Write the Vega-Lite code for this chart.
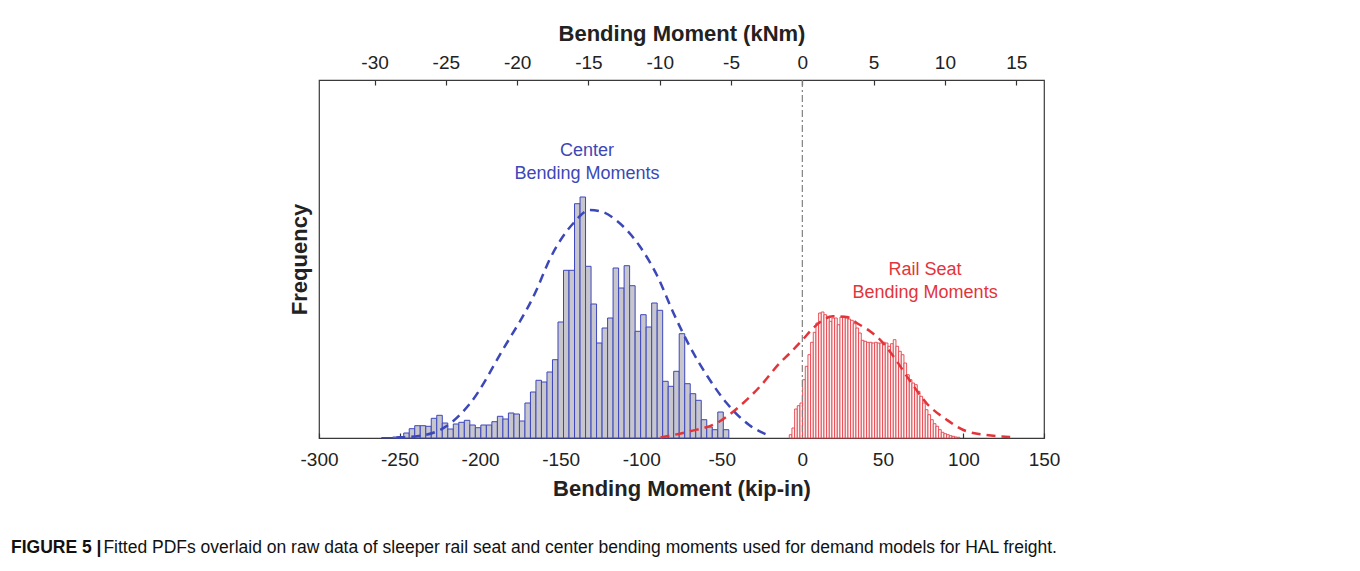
{
  "$schema": "https://vega.github.io/schema/vega-lite/v6.json",
  "width": 725,
  "height": 358,
  "autosize": {"type": "none"},
  "padding": {"left": 319, "top": 80, "right": 316, "bottom": 133},
  "background": "white",
  "config": {
    "view": {"stroke": "#3a3a3a", "strokeWidth": 1.2},
    "font": "Liberation Sans",
    "axis": {"labelFont": "Liberation Sans", "titleFont": "Liberation Sans", "labelColor": "#222", "titleColor": "#222", "grid": false, "domain": false, "tickColor": "#333", "tickWidth": 1.2}
  },
  "title": {
    "text": "FIGURE 5 |",
    "subtitle": "\u200b\u00a0\u00a0\u00a0\u00a0\u00a0\u00a0\u00a0\u00a0\u00a0\u00a0\u00a0\u00a0\u00a0\u00a0\u00a0\u00a0\u00a0\u00a0\u00a0Fitted PDFs overlaid on raw data of sleeper rail seat and center bending moments used for demand models for HAL freight.",
    "orient": "bottom",
    "anchor": "start",
    "frame": "group",
    "dx": -308,
    "offset": 40,
    "font": "Liberation Sans",
    "fontSize": 17.5,
    "fontWeight": "bold",
    "color": "#111",
    "subtitleFont": "Liberation Sans",
    "subtitleFontSize": 17.5,
    "subtitleFontWeight": "normal",
    "subtitleColor": "#111",
    "subtitlePadding": -17.5
  },
  "datasets": {
    "center": [
      {"moment": -261.1, "moment_end": -257.68, "freq": 0.5},
      {"moment": -257.68, "moment_end": -254.26, "freq": 0.5},
      {"moment": -254.26, "moment_end": -250.84, "freq": 1},
      {"moment": -250.84, "moment_end": -247.42, "freq": 1.5},
      {"moment": -247.42, "moment_end": -244.0, "freq": 5},
      {"moment": -244.0, "moment_end": -240.58, "freq": 9.3},
      {"moment": -240.58, "moment_end": -237.16, "freq": 12.3},
      {"moment": -237.16, "moment_end": -233.74, "freq": 12.3},
      {"moment": -233.74, "moment_end": -230.32, "freq": 11.7},
      {"moment": -230.32, "moment_end": -226.9, "freq": 19.7},
      {"moment": -226.9, "moment_end": -223.48, "freq": 22.7},
      {"moment": -223.48, "moment_end": -220.06, "freq": 15},
      {"moment": -220.06, "moment_end": -216.64, "freq": 9},
      {"moment": -216.64, "moment_end": -213.22, "freq": 14},
      {"moment": -213.22, "moment_end": -209.8, "freq": 15.7},
      {"moment": -209.8, "moment_end": -206.38, "freq": 17.7},
      {"moment": -206.38, "moment_end": -202.96, "freq": 13},
      {"moment": -202.96, "moment_end": -199.54, "freq": 10.3},
      {"moment": -199.54, "moment_end": -196.12, "freq": 13},
      {"moment": -196.12, "moment_end": -192.7, "freq": 13},
      {"moment": -192.7, "moment_end": -189.28, "freq": 16.3},
      {"moment": -189.28, "moment_end": -185.86, "freq": 21.7},
      {"moment": -185.86, "moment_end": -182.44, "freq": 19},
      {"moment": -182.44, "moment_end": -179.02, "freq": 25},
      {"moment": -179.02, "moment_end": -175.6, "freq": 24},
      {"moment": -175.6, "moment_end": -172.18, "freq": 17},
      {"moment": -172.18, "moment_end": -168.76, "freq": 35},
      {"moment": -168.76, "moment_end": -165.34, "freq": 46},
      {"moment": -165.34, "moment_end": -161.92, "freq": 57.7},
      {"moment": -161.92, "moment_end": -158.5, "freq": 56},
      {"moment": -158.5, "moment_end": -155.08, "freq": 66},
      {"moment": -155.08, "moment_end": -151.66, "freq": 78.3},
      {"moment": -151.66, "moment_end": -148.24, "freq": 116},
      {"moment": -148.24, "moment_end": -144.82, "freq": 167.7},
      {"moment": -144.82, "moment_end": -141.4, "freq": 167.7},
      {"moment": -141.4, "moment_end": -137.98, "freq": 234.3},
      {"moment": -137.98, "moment_end": -134.56, "freq": 241},
      {"moment": -134.56, "moment_end": -131.14, "freq": 171.7},
      {"moment": -131.14, "moment_end": -127.72, "freq": 134},
      {"moment": -127.72, "moment_end": -124.3, "freq": 95},
      {"moment": -124.3, "moment_end": -120.88, "freq": 110},
      {"moment": -120.88, "moment_end": -117.46, "freq": 120},
      {"moment": -117.46, "moment_end": -114.04, "freq": 170},
      {"moment": -114.04, "moment_end": -110.62, "freq": 150},
      {"moment": -110.62, "moment_end": -107.2, "freq": 172.3},
      {"moment": -107.2, "moment_end": -103.78, "freq": 152.3},
      {"moment": -103.78, "moment_end": -100.36, "freq": 106.7},
      {"moment": -100.36, "moment_end": -96.94, "freq": 123.3},
      {"moment": -96.94, "moment_end": -93.52, "freq": 111},
      {"moment": -93.52, "moment_end": -90.1, "freq": 135},
      {"moment": -90.1, "moment_end": -86.68, "freq": 127.7},
      {"moment": -86.68, "moment_end": -83.26, "freq": 56.7},
      {"moment": -83.26, "moment_end": -79.84, "freq": 51.7},
      {"moment": -79.84, "moment_end": -76.42, "freq": 66.7},
      {"moment": -76.42, "moment_end": -73.0, "freq": 104.3},
      {"moment": -73.0, "moment_end": -69.58, "freq": 54.3},
      {"moment": -69.58, "moment_end": -66.16, "freq": 44.3},
      {"moment": -66.16, "moment_end": -62.74, "freq": 37.7},
      {"moment": -62.74, "moment_end": -59.32, "freq": 18.3},
      {"moment": -59.32, "moment_end": -55.9, "freq": 11},
      {"moment": -55.9, "moment_end": -52.48, "freq": 8.3},
      {"moment": -52.48, "moment_end": -49.06, "freq": 26},
      {"moment": -49.06, "moment_end": -45.64, "freq": 8.3}
    ],
    "rail": [
      {"moment": -8.1, "moment_end": -6.445, "freq": 3.3},
      {"moment": -6.445, "moment_end": -4.79, "freq": 10},
      {"moment": -4.79, "moment_end": -3.135, "freq": 29},
      {"moment": -3.135, "moment_end": -1.48, "freq": 32.3},
      {"moment": -1.48, "moment_end": 0.175, "freq": 35},
      {"moment": 0.175, "moment_end": 1.83, "freq": 58.3},
      {"moment": 1.83, "moment_end": 3.485, "freq": 71.7},
      {"moment": 3.485, "moment_end": 5.14, "freq": 83.3},
      {"moment": 5.14, "moment_end": 6.795, "freq": 95.7},
      {"moment": 6.795, "moment_end": 8.45, "freq": 105.7},
      {"moment": 8.45, "moment_end": 10.105, "freq": 115},
      {"moment": 10.105, "moment_end": 11.76, "freq": 125},
      {"moment": 11.76, "moment_end": 13.415, "freq": 126},
      {"moment": 13.415, "moment_end": 15.07, "freq": 123.3},
      {"moment": 15.07, "moment_end": 16.725, "freq": 121.7},
      {"moment": 16.725, "moment_end": 18.38, "freq": 116.7},
      {"moment": 18.38, "moment_end": 20.035, "freq": 120},
      {"moment": 20.035, "moment_end": 21.69, "freq": 120},
      {"moment": 21.69, "moment_end": 23.345, "freq": 113.3},
      {"moment": 23.345, "moment_end": 25.0, "freq": 121},
      {"moment": 25.0, "moment_end": 26.655, "freq": 121.7},
      {"moment": 26.655, "moment_end": 28.31, "freq": 120},
      {"moment": 28.31, "moment_end": 29.965, "freq": 119},
      {"moment": 29.965, "moment_end": 31.62, "freq": 117.7},
      {"moment": 31.62, "moment_end": 33.275, "freq": 114.3},
      {"moment": 33.275, "moment_end": 34.93, "freq": 110},
      {"moment": 34.93, "moment_end": 36.585, "freq": 105},
      {"moment": 36.585, "moment_end": 38.24, "freq": 97.7},
      {"moment": 38.24, "moment_end": 39.895, "freq": 96.7},
      {"moment": 39.895, "moment_end": 41.55, "freq": 95.7},
      {"moment": 41.55, "moment_end": 43.205, "freq": 95.7},
      {"moment": 43.205, "moment_end": 44.86, "freq": 95},
      {"moment": 44.86, "moment_end": 46.515, "freq": 95.7},
      {"moment": 46.515, "moment_end": 48.17, "freq": 95},
      {"moment": 48.17, "moment_end": 49.825, "freq": 95},
      {"moment": 49.825, "moment_end": 51.48, "freq": 95.7},
      {"moment": 51.48, "moment_end": 53.135, "freq": 95},
      {"moment": 53.135, "moment_end": 54.79, "freq": 91.7},
      {"moment": 54.79, "moment_end": 56.445, "freq": 94.3},
      {"moment": 56.445, "moment_end": 58.1, "freq": 98.3},
      {"moment": 58.1, "moment_end": 59.755, "freq": 91.7},
      {"moment": 59.755, "moment_end": 61.41, "freq": 86.7},
      {"moment": 61.41, "moment_end": 63.065, "freq": 83.3},
      {"moment": 63.065, "moment_end": 64.72, "freq": 75},
      {"moment": 64.72, "moment_end": 66.375, "freq": 63.3},
      {"moment": 66.375, "moment_end": 68.03, "freq": 58.3},
      {"moment": 68.03, "moment_end": 69.685, "freq": 55},
      {"moment": 69.685, "moment_end": 71.34, "freq": 53.3},
      {"moment": 71.34, "moment_end": 72.995, "freq": 46.7},
      {"moment": 72.995, "moment_end": 74.65, "freq": 41.7},
      {"moment": 74.65, "moment_end": 76.305, "freq": 35},
      {"moment": 76.305, "moment_end": 77.96, "freq": 28.3},
      {"moment": 77.96, "moment_end": 79.615, "freq": 23.3},
      {"moment": 79.615, "moment_end": 81.27, "freq": 18.3},
      {"moment": 81.27, "moment_end": 82.925, "freq": 14.3},
      {"moment": 82.925, "moment_end": 84.58, "freq": 11.7},
      {"moment": 84.58, "moment_end": 86.235, "freq": 8.3},
      {"moment": 86.235, "moment_end": 87.89, "freq": 5.7},
      {"moment": 87.89, "moment_end": 89.545, "freq": 4.3},
      {"moment": 89.545, "moment_end": 91.2, "freq": 3.3},
      {"moment": 91.2, "moment_end": 92.855, "freq": 2.3},
      {"moment": 92.855, "moment_end": 94.51, "freq": 1.7},
      {"moment": 94.51, "moment_end": 96.165, "freq": 1},
      {"moment": 96.165, "moment_end": 97.82, "freq": 0.7}
    ],
    "curves": [
      {"group": "center", "moment": -252, "freq": 0.5},
      {"group": "center", "moment": -238, "freq": 2},
      {"group": "center", "moment": -221, "freq": 11.7},
      {"group": "center", "moment": -206, "freq": 35},
      {"group": "center", "moment": -186, "freq": 88},
      {"group": "center", "moment": -165, "freq": 148},
      {"group": "center", "moment": -157, "freq": 178},
      {"group": "center", "moment": -142, "freq": 215},
      {"group": "center", "moment": -132, "freq": 228},
      {"group": "center", "moment": -124, "freq": 226},
      {"group": "center", "moment": -115, "freq": 217},
      {"group": "center", "moment": -101, "freq": 192},
      {"group": "center", "moment": -90, "freq": 162},
      {"group": "center", "moment": -80, "freq": 125},
      {"group": "center", "moment": -70, "freq": 92},
      {"group": "center", "moment": -59, "freq": 62},
      {"group": "center", "moment": -47, "freq": 35},
      {"group": "center", "moment": -33, "freq": 13},
      {"group": "center", "moment": -20, "freq": 2},
      {"group": "rail", "moment": -88, "freq": 0.5},
      {"group": "rail", "moment": -70, "freq": 6.7},
      {"group": "rail", "moment": -53, "freq": 15},
      {"group": "rail", "moment": -39, "freq": 31.7},
      {"group": "rail", "moment": -26, "freq": 52},
      {"group": "rail", "moment": -14, "freq": 75},
      {"group": "rail", "moment": -7.6, "freq": 85},
      {"group": "rail", "moment": 0.2, "freq": 98.3},
      {"group": "rail", "moment": 6.8, "freq": 110},
      {"group": "rail", "moment": 13, "freq": 118},
      {"group": "rail", "moment": 19, "freq": 121.7},
      {"group": "rail", "moment": 27.6, "freq": 121},
      {"group": "rail", "moment": 33.8, "freq": 115},
      {"group": "rail", "moment": 42, "freq": 106.7},
      {"group": "rail", "moment": 48.2, "freq": 98.3},
      {"group": "rail", "moment": 56.5, "freq": 81.7},
      {"group": "rail", "moment": 67, "freq": 56.7},
      {"group": "rail", "moment": 77, "freq": 35},
      {"group": "rail", "moment": 89.6, "freq": 18.3},
      {"group": "rail", "moment": 102, "freq": 6.7},
      {"group": "rail", "moment": 118.6, "freq": 2.3},
      {"group": "rail", "moment": 129, "freq": 1}
    ],
    "labels": [
      {"group": "center", "moment": -133.6, "freq": 287, "label": "Center\nBending Moments"},
      {"group": "rail", "moment": 76.2, "freq": 168.5, "label": "Rail Seat\nBending Moments"}
    ]
  },
  "layer": [
    {
      "layer": [
        {
          "data": {"name": "center"},
          "mark": {"type": "rect", "fill": "#c6c6cc", "stroke": "#3d47bd", "strokeWidth": 1},
          "encoding": {
            "x": {
              "field": "moment", "type": "quantitative",
              "scale": {"domain": [-300, 150], "nice": false, "zero": false},
              "axis": {
                "orient": "bottom",
                "title": "Bending Moment (kip-in)",
                "values": [-300, -250, -200, -150, -100, -50, 0, 50, 100, 150],
                "labelExpr": "'' + datum.value",
                "tickSize": -5,
                "labelFontSize": 19,
                "labelPadding": 17,
                "labelFlush": false,
                "labelOverlap": false,
                "titleFontSize": 22,
                "titleFontWeight": "bold",
                "titlePadding": 9
              }
            },
            "x2": {"field": "moment_end"},
            "y": {
              "field": "freq", "type": "quantitative",
              "scale": {"domain": [0, 358], "nice": false, "zero": true},
              "axis": {"title": "Frequency", "labels": false, "ticks": false, "titleFontSize": 22, "titleFontWeight": "bold", "titlePadding": 8}
            },
            "y2": {"datum": 0}
          }
        },
        {
          "data": {"name": "rail"},
          "mark": {"type": "rect", "fill": "#fff4f4", "stroke": "#e5424b", "strokeWidth": 0.9},
          "encoding": {
            "x": {"field": "moment", "type": "quantitative", "title": "Bending Moment (kip-in)"},
            "x2": {"field": "moment_end"},
            "y": {"field": "freq", "type": "quantitative", "title": "Frequency"},
            "y2": {"datum": 0}
          }
        },
        {
          "data": {"name": "curves"},
          "mark": {"type": "line", "strokeDash": [9, 6], "strokeWidth": 2.5, "interpolate": "monotone"},
          "encoding": {
            "x": {"field": "moment", "type": "quantitative", "title": "Bending Moment (kip-in)"},
            "y": {"field": "freq", "type": "quantitative", "title": "Frequency"},
            "color": {"field": "group", "type": "nominal", "scale": {"domain": ["center", "rail"], "range": ["#3c47b8", "#e3343a"]}, "legend": null}
          }
        },
        {
          "data": {"name": "labels"},
          "mark": {"type": "text", "fontSize": 18, "lineBreak": "\n", "lineHeight": 23, "align": "center", "baseline": "middle", "font": "Liberation Sans"},
          "encoding": {
            "x": {"field": "moment", "type": "quantitative", "title": "Bending Moment (kip-in)"},
            "y": {"field": "freq", "type": "quantitative", "title": "Frequency"},
            "text": {"field": "label"},
            "color": {"field": "group", "type": "nominal", "scale": {"domain": ["center", "rail"], "range": ["#3c47b8", "#e3343a"]}, "legend": null}
          }
        }
      ]
    },
    {
      "data": {"values": [{"kNm": 0}]},
      "mark": {"type": "rule", "color": "#808080", "strokeWidth": 1.2, "strokeDash": [7, 3, 2, 3]},
      "encoding": {
        "x": {
          "field": "kNm", "type": "quantitative",
          "scale": {"domain": [-33.8956, 16.9478], "nice": false, "zero": false},
          "axis": {
            "orient": "top",
            "title": "Bending Moment (kNm)",
            "values": [-30, -25, -20, -15, -10, -5, 0, 5, 10, 15],
            "labelExpr": "'' + datum.value",
            "tickSize": -5,
            "labelFontSize": 19,
            "labelPadding": 13,
            "labelFlush": false,
            "labelOverlap": false,
            "titleFontSize": 22,
            "titleFontWeight": "bold",
            "titlePadding": 8
          }
        }
      }
    }
  ],
  "resolve": {"scale": {"x": "independent"}, "axis": {"x": "independent"}}
}
